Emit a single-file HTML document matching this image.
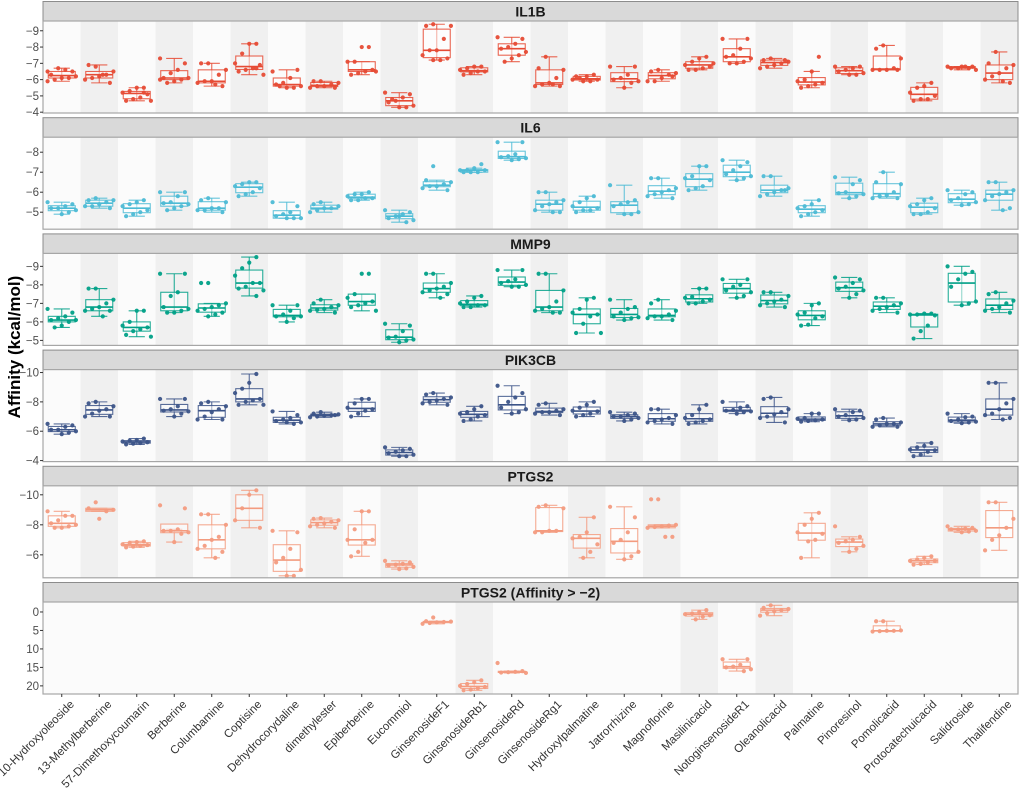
<!DOCTYPE html>
<html><head><meta charset="utf-8"><style>
html,body{margin:0;padding:0;background:#fff;}
svg{display:block;font-family:"Liberation Sans",Arial,sans-serif;}
</style></head><body>
<svg id="chart" width="1020" height="791" viewBox="0 0 1020 791" xmlns="http://www.w3.org/2000/svg">
<text x="0" y="0" transform="translate(20,347) rotate(-90)" text-anchor="middle" font-size="17" font-weight="bold" fill="#000">Affinity (kcal/mol)</text>
</svg>
<script>
const categories = ["10-Hydroxyoleoside","13-Methylberberine","57-Dimethoxycoumarin","Berberine","Columbamine","Coptisine","Dehydrocorydaline","dimethylester","Epiberberine","Eucommiol","GinsenosideF1","GinsenosideRb1","GinsenosideRd","GinsenosideRg1","Hydroxylpalmatine","Jatrorrhizine","Magnoflorine","Masilinicacid","NotoginsenosideR1","Oleanolicacid","Palmatine","Pinoresinol","Pomolicacid","Protocatechuicacid","Salidroside","Thalifendine"];
const facetTitles = ["IL1B","IL6","MMP9","PIK3CB","PTGS2","PTGS2 (Affinity > \u22122)"];
const facetColors = ["#E64B35","#4DBBD5","#00A087","#3C5488","#F39B7F","#F39B7F"];
const facetDomains = [[-9.6,-3.95],[-8.75,-4.15],[-9.7,-4.73],[-10.2,-3.93],[-10.6,-4.47],[-2.7,22.2]];
const facetTicks = [[-9,-8,-7,-6,-5,-4],[-8,-7,-6,-5],[-9,-8,-7,-6,-5],[-10,-8,-6,-4],[-10,-8,-6],[0,5,10,15,20]];
const il1b = [
[-6.5,-6.5,-6.6,-6.7,-6.3,-6.2,-6.1,-6.1,-6.0,-5.9],[-6.8,-6.9,-6.5,-6.3,-6.2,-6.1,-6.0,-5.8,-6.3],[-5.5,-5.5,-5.3,-5.2,-5.1,-4.9,-4.8,-4.7,-4.7,-5.2],[-7.3,-7.0,-6.6,-6.4,-6.1,-6.1,-6.0,-5.9,-5.8,-6.0],[-7.0,-7.0,-6.6,-6.3,-5.9,-5.9,-5.8,-5.6,-5.7],[-8.2,-8.2,-7.6,-7.0,-6.9,-6.7,-6.6,-6.5,-6.3,-6.7],[-6.5,-6.6,-6.1,-5.8,-5.7,-5.6,-5.5,-5.5,-5.6],[-5.9,-5.9,-5.8,-5.7,-5.6,-5.6,-5.5,-5.5],
[-8.0,-8.0,-7.1,-7.1,-6.6,-6.5,-6.4,-6.3,-6.5],[-5.2,-5.1,-4.9,-4.7,-4.6,-4.4,-4.3,-4.3,-4.8],[-9.4,-9.3,-9.3,-8.5,-7.8,-7.8,-7.5,-7.3,-7.2,-7.2],[-6.8,-6.8,-6.7,-6.6,-6.5,-6.5,-6.4,-6.3],[-8.6,-8.5,-8.2,-8.0,-7.9,-7.7,-7.5,-7.3,-7.1],[-7.4,-6.7,-6.6,-6.1,-5.8,-5.7,-5.6,-5.6,-5.7],[-6.3,-6.2,-6.1,-6.0,-6.0,-5.9,-5.9,-6.2],[-6.8,-6.8,-6.3,-6.1,-6.0,-5.9,-5.8,-5.5],[-6.6,-6.5,-6.4,-6.3,-6.1,-5.9,-5.9,-6.2],
[-7.4,-7.3,-7.1,-6.9,-6.8,-6.7,-6.6,-6.6,-7.0],[-8.5,-8.5,-7.9,-7.5,-7.4,-7.3,-7.1,-7.0,-7.0],[-7.3,-7.2,-7.1,-7.0,-6.9,-6.8,-6.7,-7.2],[-7.4,-6.5,-6.0,-5.9,-5.8,-5.7,-5.6,-5.5],[-6.8,-6.8,-6.7,-6.6,-6.5,-6.4,-6.3,-6.3],[-8.1,-7.9,-7.3,-6.7,-6.6,-6.6,-6.6,-6.6],[-5.8,-5.6,-5.5,-5.2,-5.0,-4.8,-4.8,-4.7],[-6.8,-6.8,-6.8,-6.7,-6.7,-6.6,-6.7,-6.8],[-7.7,-7.0,-6.9,-6.7,-6.4,-6.2,-6.0,-5.8,-5.9]];
const il6 = [
[-5.5,-5.4,-5.3,-5.2,-5.2,-5.1,-5.0,-4.9],[-5.7,-5.6,-5.6,-5.5,-5.4,-5.3,-5.3,-5.2],[-5.6,-5.5,-5.4,-5.3,-5.1,-5.0,-4.9,-4.8],[-6.0,-6.0,-5.8,-5.5,-5.45,-5.4,-5.3,-5.2,-5.1],[-5.7,-5.6,-5.5,-5.2,-5.2,-5.1,-5.1,-5.0],[-6.5,-6.5,-6.4,-6.3,-6.2,-6.0,-5.9,-5.8],[-5.5,-5.3,-5.0,-4.9,-4.8,-4.7,-4.7,-4.7],[-5.5,-5.4,-5.3,-5.2,-5.2,-5.1,-5.0],
[-6.0,-5.9,-5.9,-5.8,-5.7,-5.7,-5.6,-5.6],[-5.1,-5.0,-4.9,-4.8,-4.7,-4.6,-4.5,-4.8],[-7.3,-6.6,-6.5,-6.4,-6.3,-6.3,-6.2,-6.1],[-7.4,-7.2,-7.1,-7.1,-7.1,-7.0,-7.0,-7.0],[-8.5,-8.5,-7.9,-7.8,-7.75,-7.7,-7.65,-7.6],[-6.0,-6.0,-5.6,-5.5,-5.4,-5.3,-5.1,-5.0,-5.0],[-5.8,-5.7,-5.5,-5.3,-5.2,-5.1,-5.1,-5.0],[-6.35,-5.6,-5.5,-5.4,-5.3,-5.0,-4.9,-4.9],[-6.7,-6.7,-6.2,-6.1,-6.0,-5.9,-5.8,-5.7],
[-7.3,-7.3,-6.8,-6.7,-6.6,-6.3,-6.2,-6.1],[-7.6,-7.5,-7.3,-7.1,-6.9,-6.8,-6.7,-6.6],[-6.8,-6.8,-6.2,-6.1,-6.0,-5.9,-5.8,-6.1],[-5.6,-5.4,-5.3,-5.2,-5.1,-5.0,-4.9,-4.8],[-6.75,-6.6,-6.4,-6.0,-5.95,-5.9,-5.8,-5.7],[-7.0,-6.5,-6.4,-6.0,-5.85,-5.8,-5.7,-5.7],[-5.7,-5.6,-5.4,-5.3,-5.2,-5.0,-4.9,-4.9],[-6.1,-6.0,-5.9,-5.7,-5.6,-5.5,-5.4,-5.35],[-6.5,-6.5,-6.1,-6.0,-5.9,-5.8,-5.6,-5.2,-5.1]];
const mmp9 = [
[-6.7,-6.5,-6.3,-6.2,-6.1,-6.1,-6.0,-5.8,-5.7],[-7.8,-7.8,-7.2,-7.0,-6.8,-6.7,-6.6,-6.6,-6.3],[-6.6,-6.6,-6.0,-5.8,-5.7,-5.6,-5.5,-5.3,-5.2],[-8.6,-8.6,-7.6,-7.4,-6.8,-6.7,-6.6,-6.5,-6.5],[-8.1,-8.1,-7.0,-6.9,-6.8,-6.7,-6.6,-6.5,-6.4,-6.3],[-9.5,-9.2,-8.9,-8.5,-8.1,-8.1,-7.9,-7.8,-7.7,-7.4],[-6.9,-6.9,-6.6,-6.4,-6.3,-6.3,-6.2,-6.0],[-7.2,-7.0,-6.9,-6.8,-6.7,-6.65,-6.6,-6.5],
[-8.6,-8.6,-7.5,-7.3,-7.1,-7.0,-6.9,-6.8,-6.6],[-5.9,-5.8,-5.5,-5.2,-5.15,-5.05,-5.0,-4.9],[-8.6,-8.6,-8.1,-7.9,-7.8,-7.7,-7.6,-7.5,-7.3],[-7.4,-7.3,-7.1,-7.0,-6.9,-6.9,-6.8,-6.8],[-8.8,-8.8,-8.3,-8.2,-8.1,-8.0,-7.9,-7.9],[-8.6,-8.6,-7.7,-7.1,-6.8,-6.7,-6.6,-6.5,-6.5],[-7.3,-7.2,-6.7,-6.5,-6.4,-6.3,-5.9,-5.4,-5.4],[-7.2,-6.8,-6.7,-6.5,-6.3,-6.25,-6.2,-6.1],[-7.2,-7.0,-6.6,-6.4,-6.3,-6.3,-6.2,-6.1],
[-7.8,-7.8,-7.35,-7.3,-7.2,-7.1,-7.0,-7.0],[-8.3,-8.3,-8.0,-7.9,-7.7,-7.6,-7.4,-7.3],[-7.6,-7.6,-7.4,-7.2,-7.1,-7.0,-6.9,-6.8],[-7.0,-6.9,-6.5,-6.4,-6.3,-6.2,-5.85,-5.8],[-8.4,-8.3,-8.1,-7.9,-7.8,-7.7,-7.5,-7.3],[-7.3,-7.3,-7.0,-6.9,-6.8,-6.7,-6.6,-6.5],[-6.45,-6.45,-6.4,-6.4,-6.35,-5.8,-5.5,-5.1],[-9.0,-8.7,-8.6,-8.3,-7.9,-7.1,-7.0,-6.9],[-7.6,-7.5,-7.15,-7.0,-6.8,-6.7,-6.6,-6.5]];
const pik3cb = [
[-6.5,-6.4,-6.3,-6.1,-6.1,-6.0,-5.9,-5.8],[-8.0,-7.9,-7.7,-7.5,-7.4,-7.2,-7.0,-7.0],[-5.5,-5.4,-5.35,-5.3,-5.25,-5.2,-5.15,-5.1],[-8.2,-8.2,-7.7,-7.5,-7.4,-7.35,-7.2,-7.0],[-8.0,-7.9,-7.7,-7.5,-7.3,-7.0,-6.8,-6.8],[-9.9,-9.3,-8.9,-8.6,-8.2,-8.1,-8.0,-7.8,-7.8],[-7.35,-7.1,-6.9,-6.8,-6.7,-6.6,-6.5,-6.6],[-7.3,-7.2,-7.15,-7.1,-7.05,-7.0,-6.95,-7.1],
[-8.2,-8.2,-7.9,-7.6,-7.5,-7.4,-7.2,-7.0],[-4.9,-4.8,-4.7,-4.6,-4.5,-4.4,-4.3,-4.3],[-8.6,-8.5,-8.3,-8.2,-8.1,-8.0,-7.9,-7.8],[-7.7,-7.5,-7.3,-7.2,-7.1,-7.0,-6.8,-6.7],[-9.1,-8.6,-8.3,-8.0,-7.6,-7.5,-7.3,-7.2],[-7.9,-7.8,-7.5,-7.4,-7.3,-7.3,-7.2,-7.1],[-8.0,-7.8,-7.6,-7.4,-7.35,-7.2,-7.1,-7.0],[-7.3,-7.2,-7.1,-7.0,-7.0,-6.9,-6.8,-6.7],[-7.5,-7.5,-7.1,-6.9,-6.8,-6.7,-6.6,-6.5],
[-7.8,-7.5,-7.1,-6.9,-6.8,-6.7,-6.6,-6.5],[-8.0,-7.7,-7.6,-7.45,-7.4,-7.35,-7.3,-7.2],[-8.3,-8.2,-7.5,-7.3,-7.15,-7.0,-6.9,-6.6],[-7.2,-7.2,-6.9,-6.85,-6.8,-6.75,-6.7,-6.65],[-7.5,-7.4,-7.3,-7.1,-7.0,-6.9,-6.8,-6.75],[-6.9,-6.8,-6.6,-6.5,-6.5,-6.4,-6.3,-6.3],[-5.2,-5.0,-4.9,-4.75,-4.7,-4.6,-4.4,-4.3],[-7.2,-7.0,-6.95,-6.8,-6.7,-6.65,-6.6,-6.55],[-9.3,-9.3,-8.2,-7.9,-7.5,-7.2,-7.1,-6.9,-6.8]];
const ptgs2 = [
[-8.9,-8.6,-8.6,-8.3,-8.1,-8.0,-7.9,-7.8,-7.8],[-9.5,-9.1,-9.0,-8.9,-8.4],[-6.9,-6.85,-6.8,-6.7,-6.65,-6.6,-6.55,-6.5],[-9.3,-9.1,-7.7,-7.6,-7.6,-7.5,-7.4,-6.85],[-8.7,-8.7,-8.0,-7.2,-7.0,-6.6,-6.4,-6.2,-5.8],[-10.3,-10.0,-9.1,-8.3,-7.8],[-7.6,-7.5,-6.4,-5.8,-5.5,-5.0,-4.6,-4.6],[-8.45,-8.4,-8.3,-8.2,-8.1,-8.0,-7.9,-7.8],
[-8.9,-8.9,-7.7,-7.0,-7.0,-6.8,-6.2,-5.9],[-5.6,-5.5,-5.4,-5.35,-5.3,-5.2,-5.1,-5.05],null,null,null,[-9.3,-9.2,-9.1,-7.6,-7.6,-7.5,-7.5],[-8.5,-7.5,-7.2,-7.1,-6.7,-6.2,-5.8],[-9.2,-8.5,-7.5,-7.0,-6.8,-6.2,-5.9,-5.7],[-9.7,-9.7,-8.0,-7.95,-7.9,-7.85,-7.8,-7.2,-7.2],
null,null,null,[-8.8,-8.4,-8.0,-7.5,-7.4,-7.0,-6.9,-5.8],[-7.9,-7.2,-7.0,-6.9,-6.8,-6.6,-6.4,-6.2],null,[-5.9,-5.8,-5.7,-5.6,-5.6,-5.5,-5.4,-5.35],[-7.9,-7.8,-7.75,-7.7,-7.7,-7.6,-7.55,-7.5],[-9.5,-9.5,-8.4,-7.8,-7.3,-7.0,-6.3]];
const ptgs2High = [null,null,null,null,null,null,null,null,null,null,
[1.5,2.5,2.6,2.7,2.8,3.0,3.2],[18.5,19.0,19.5,20.0,20.3,20.6,21.0,21.2],[13.8,16.0,16.2,16.3,16.4,16.5],null,null,null,null,
[-0.5,0,0.4,0.6,0.9,1.3,2.0],[12.8,12.8,14.3,14.8,15.0,15.5,16.0],[-1.8,-1.1,-0.8,-0.5,-0.2,0.3,1.0],null,null,[2.5,2.5,5.0,5.1,5.1,5.2,5.3],null,null,null];
const facetData = [il1b, il6, mmp9, pik3cb, ptgs2, ptgs2High];

const NS = "http://www.w3.org/2000/svg";
const svg = document.getElementById("chart");
const L = 43, R = 1018, bandW = (R - L) / categories.length;
const stripH = 20, plotH = 92, pitch = 116.2;
function mk(tag, attrs, parent) { const e = document.createElementNS(NS, tag); for (const k in attrs) e.setAttribute(k, attrs[k]); (parent || svg).appendChild(e); return e; }
function xCenter(i) { return L + (i + 0.5) * bandW; }
function quant(s, p) { const h = (s.length - 1) * p, lo = Math.floor(h), hi = Math.ceil(h); return s[lo] + (s[hi] - s[lo]) * (h - lo); }

facetData.forEach((data, f) => {
  const top = 1 + f * pitch, pTop = top + stripH, pBot = pTop + plotH;
  const dom = facetDomains[f];
  const y = v => pTop + (v - dom[0]) / (dom[1] - dom[0]) * plotH;
  const g = mk("g", {});
  
  
  const strip = mk("rect", {x: L, y: top + 0.5, width: R - L, height: stripH, fill: "#d9d9d9", stroke: "#8c8c8c", "stroke-width": 1}, g);
  
  
  const st = mk("text", {x: (L + R) / 2, y: top + 15.5, "text-anchor": "middle", "font-size": 14, "font-weight": "bold", fill: "#1a1a1a"}, g);
  st.textContent = facetTitles[f];
  
  
  const bg = mk("rect", {x: L, y: pTop, width: R - L, height: plotH, fill: "#fbfbfb"}, g);
  
  
  let k = 0;
  data.forEach((pts, i) => {
    if (!pts) return;
    if (k % 2 === 1) {
      const b = mk("rect", {x: L + i * bandW, y: pTop, width: bandW, height: plotH, fill: "#f0f0f0"}, g);
      
      
    }
    k++;
  });
  const col = facetColors[f];
  data.forEach((pts, i) => {
    if (!pts) return;
    const s = pts.slice().sort((a, b) => a - b);
    const q1 = quant(s, .25), med = quant(s, .5), q3 = quant(s, .75), iqr = q3 - q1;
    const lo = s.find(v => v >= q1 - 1.5 * iqr), hi = s.slice().reverse().find(v => v <= q3 + 1.5 * iqr);
    const cx = xCenter(i), bw = bandW * 0.72;
    const bg2 = mk("g", {}, g);
    
    
    mk("line", {x1: cx, x2: cx, y1: y(lo), y2: y(hi), stroke: col, "stroke-width": 1.1, "stroke-opacity": 0.85}, bg2);
    mk("line", {x1: cx - bw * 0.3, x2: cx + bw * 0.3, y1: y(lo), y2: y(lo), stroke: col, "stroke-width": 1.1, "stroke-opacity": 0.85}, bg2);
    mk("line", {x1: cx - bw * 0.3, x2: cx + bw * 0.3, y1: y(hi), y2: y(hi), stroke: col, "stroke-width": 1.1, "stroke-opacity": 0.85}, bg2);
    const y1 = Math.min(y(q1), y(q3)), y2 = Math.max(y(q1), y(q3));
    mk("rect", {x: cx - bw / 2, y: y1, width: bw, height: Math.max(1, y2 - y1), fill: "#ffffff", "fill-opacity": 0.5, stroke: col, "stroke-width": 1.1, "stroke-opacity": 0.85}, bg2);
    mk("line", {x1: cx - bw / 2, x2: cx + bw / 2, y1: y(med), y2: y(med), stroke: col, "stroke-width": 1.6}, bg2);
    pts.forEach((v, j) => {
      const jit = (((j * 7 + i * 3) % 9) / 8 - 0.5) * bw * 1.05;
      const c = mk("circle", {cx: cx + jit, cy: y(v), r: 2.1, fill: col, "fill-opacity": 0.95}, bg2);
      
      
    });
  });
  const border = mk("rect", {x: L, y: pTop, width: R - L, height: plotH, fill: "none", stroke: "#a6a6a6", "stroke-width": 1.2}, g);
  
  
  facetTicks[f].forEach(t => {
    mk("line", {x1: L - 3, x2: L, y1: y(t), y2: y(t), stroke: "#333", "stroke-width": 1}, g);
    const tl = mk("text", {x: L - 4, y: y(t) + 4, "text-anchor": "end", "font-size": 11.5, fill: "#4d4d4d"}, g);
    tl.textContent = t < 0 ? "\u2212" + Math.abs(t) : String(t);
    
    
  });
});

const axisBottom = 1 + 5 * pitch + stripH + plotH;
categories.forEach((c, i) => {
  const cx = xCenter(i);
  mk("line", {x1: cx, x2: cx, y1: axisBottom, y2: axisBottom + 3, stroke: "#333", "stroke-width": 1});
  const t = mk("text", {x: 0, y: 0, transform: "translate(" + (cx + 13) + "," + (axisBottom + 11) + ") rotate(-45)", "text-anchor": "end", "font-size": 11.5, fill: "#333"});
  t.textContent = c;
  
  
});
</script>
</body></html>
